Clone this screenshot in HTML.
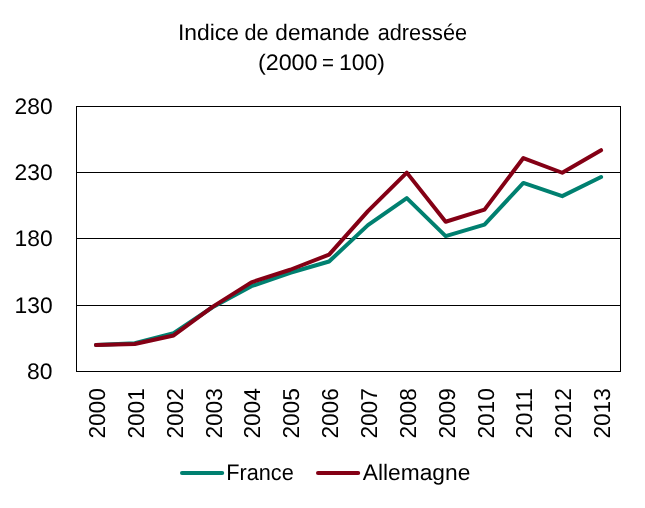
<!DOCTYPE html>
<html><head><meta charset="utf-8"><style>
html,body{margin:0;padding:0;background:#fff;overflow:hidden;width:645px;height:508px;}
svg{display:block;}
text{font-family:"Liberation Sans", Arial, sans-serif;fill:#000;text-rendering:geometricPrecision;}
.t{filter:grayscale(1);}
</style></head><body>
<svg width="645" height="508" viewBox="0 0 645 508">
<rect width="645" height="508" fill="#fff"/>
<g class="t" font-size="22.5">
<text x="178.0" y="39.7" textLength="61.0" lengthAdjust="spacingAndGlyphs">Indice</text>
<text x="244.5" y="39.7" textLength="24.04" lengthAdjust="spacingAndGlyphs">de</text>
<text x="275.3" y="39.7" textLength="94.32" lengthAdjust="spacingAndGlyphs">demande</text>
<text x="377.7" y="39.7" textLength="89.35" lengthAdjust="spacingAndGlyphs">adressée</text>
<text x="257.9" y="70" textLength="59.65" lengthAdjust="spacingAndGlyphs">(2000</text>
<text x="322.0" y="70" textLength="11.95" lengthAdjust="spacingAndGlyphs">=</text>
<text x="338.9" y="70" textLength="46.11" lengthAdjust="spacingAndGlyphs">100)</text>
</g>
<g stroke="#000" stroke-width="1" shape-rendering="crispEdges">
<line x1="76.5" x2="620.5" y1="172.5" y2="172.5" />
<line x1="76.5" x2="620.5" y1="238.5" y2="238.5" />
<line x1="76.5" x2="620.5" y1="305.5" y2="305.5" />
</g>
<rect x="76.5" y="106.5" width="544.0" height="265.0" fill="none" stroke="#000" stroke-width="1" shape-rendering="crispEdges"/>
<g fill="none" stroke-width="4" stroke-linejoin="round" stroke-linecap="round">
<polyline points="95.93,345.00 134.79,343.14 173.64,333.21 212.50,307.24 251.36,286.17 290.21,272.79 329.07,261.52 367.93,225.09 406.79,198.06 445.64,236.09 484.50,224.56 523.36,182.95 562.21,196.14 601.07,176.99" stroke="#008070"/>
<polyline points="95.93,345.00 134.79,344.07 173.64,335.46 212.50,306.84 251.36,282.33 290.21,269.74 329.07,254.64 367.93,211.18 406.79,172.62 445.64,221.78 484.50,209.59 523.36,158.04 562.21,172.75 601.07,150.22" stroke="#840015"/>
</g>
<g class="t" font-size="22.5">
<text x="52.6" y="113.90" text-anchor="end" textLength="38.1" lengthAdjust="spacingAndGlyphs">280</text>
<text x="52.6" y="180.15" text-anchor="end" textLength="38.1" lengthAdjust="spacingAndGlyphs">230</text>
<text x="52.6" y="246.40" text-anchor="end" textLength="38.1" lengthAdjust="spacingAndGlyphs">180</text>
<text x="52.6" y="312.65" text-anchor="end" textLength="38.1" lengthAdjust="spacingAndGlyphs">130</text>
<text x="52.6" y="378.90" text-anchor="end" textLength="25.5" lengthAdjust="spacingAndGlyphs">80</text>
</g>
<g class="t" font-size="23">
<text transform="translate(105.03,438.6) rotate(-90)" textLength="50.4" lengthAdjust="spacingAndGlyphs">2000</text>
<text transform="translate(143.89,438.6) rotate(-90)" textLength="50.4" lengthAdjust="spacingAndGlyphs">2001</text>
<text transform="translate(182.74,438.6) rotate(-90)" textLength="50.4" lengthAdjust="spacingAndGlyphs">2002</text>
<text transform="translate(221.60,438.6) rotate(-90)" textLength="50.4" lengthAdjust="spacingAndGlyphs">2003</text>
<text transform="translate(260.46,438.6) rotate(-90)" textLength="50.4" lengthAdjust="spacingAndGlyphs">2004</text>
<text transform="translate(299.31,438.6) rotate(-90)" textLength="50.4" lengthAdjust="spacingAndGlyphs">2005</text>
<text transform="translate(338.17,438.6) rotate(-90)" textLength="50.4" lengthAdjust="spacingAndGlyphs">2006</text>
<text transform="translate(377.03,438.6) rotate(-90)" textLength="50.4" lengthAdjust="spacingAndGlyphs">2007</text>
<text transform="translate(415.89,438.6) rotate(-90)" textLength="50.4" lengthAdjust="spacingAndGlyphs">2008</text>
<text transform="translate(454.74,438.6) rotate(-90)" textLength="50.4" lengthAdjust="spacingAndGlyphs">2009</text>
<text transform="translate(493.60,438.6) rotate(-90)" textLength="50.4" lengthAdjust="spacingAndGlyphs">2010</text>
<text transform="translate(532.46,438.6) rotate(-90)" textLength="50.4" lengthAdjust="spacingAndGlyphs">2011</text>
<text transform="translate(571.31,438.6) rotate(-90)" textLength="50.4" lengthAdjust="spacingAndGlyphs">2012</text>
<text transform="translate(610.17,438.6) rotate(-90)" textLength="50.4" lengthAdjust="spacingAndGlyphs">2013</text>
</g>
<g stroke-width="4" stroke-linecap="round">
<line x1="182" y1="473" x2="222.2" y2="473" stroke="#008070"/>
<line x1="318" y1="472.9" x2="358.2" y2="472.9" stroke="#840015"/>
</g>
<g class="t" font-size="22.4">
<text x="226.2" y="479.8" textLength="67.5" lengthAdjust="spacingAndGlyphs">France</text>
<text x="362.8" y="480" textLength="107.5" lengthAdjust="spacingAndGlyphs">Allemagne</text>
</g>
</svg>
</body></html>
